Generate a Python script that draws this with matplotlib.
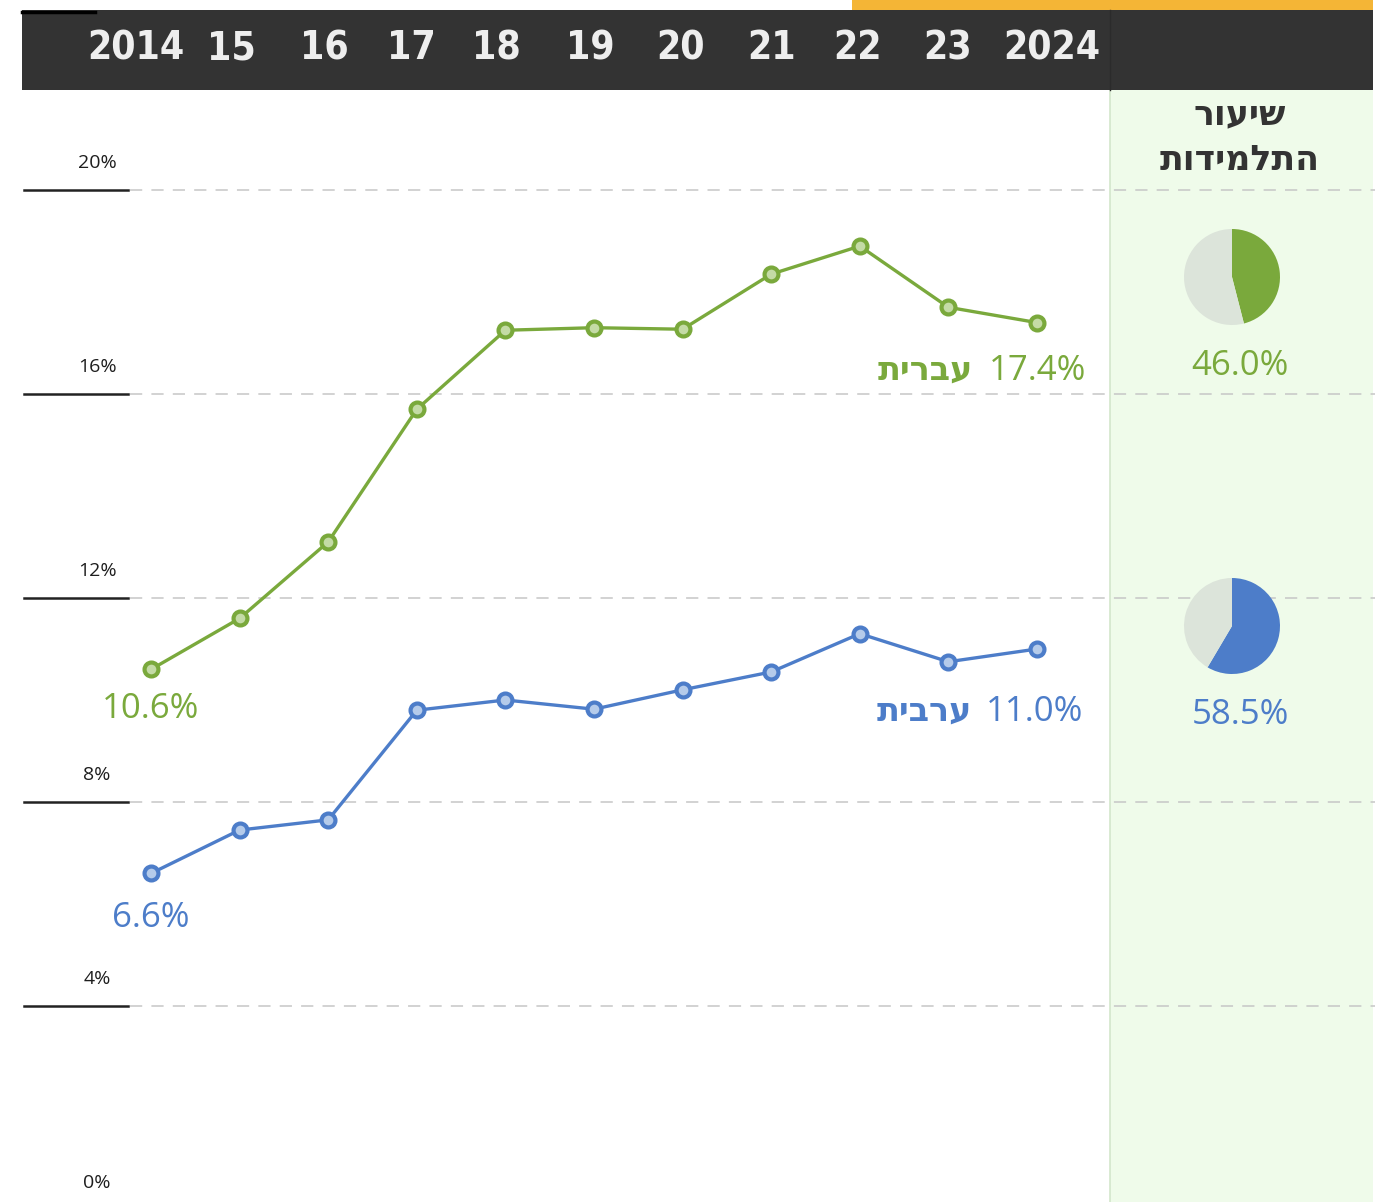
import matplotlib
matplotlib.use('Agg')
import matplotlib.pyplot as plt
from matplotlib.patches import Rectangle

# data
years = [2014, 2015, 2016, 2017, 2018, 2019, 2020, 2021, 2022, 2023, 2024]
year_labels = ['2014', '15', '16', '17', '18', '19', '20', '21', '22', '23', '2024']
hebrew = [10.6, 11.6, 13.1, 15.7, 17.25, 17.3, 17.27, 18.35, 18.9, 17.7, 17.4]
arabic = [6.6, 7.45, 7.65, 9.8, 10.0, 9.82, 10.2, 10.55, 11.3, 10.75, 11.0]
y_ticks = [0, 4, 8, 12, 16, 20]
girls_share = {'hebrew': 46.0, 'arabic': 58.5}
name_heb = 'עברית'
name_arb = 'ערבית'
title_lines = ['שיעור', 'התלמידות']

GREEN = '#7aa93c'
BLUE = '#4d7dc9'
PIE_GRAY = '#dce4da'
DARK = '#333333'
W, H = 1392, 1202


def rtl(s):
    # matplotlib has no bidi support, flip hebrew for display
    return s[::-1]


fig = plt.figure(figsize=(W / 100, H / 100), dpi=100)

# background layer in pixel coordinates
bg = fig.add_axes([0, 0, 1, 1], zorder=0)
bg.set_xlim(0, W)
bg.set_ylim(H, 0)
bg.axis('off')
bg.add_patch(Rectangle((1110, 90), 263, 1120, facecolor='#effbea', edgecolor='none'))
bg.plot([1110, 1110], [90, H], color='#d3e6cb', lw=1.2)

# main chart
ax = fig.add_axes([0, 0, 1, 1], zorder=1)
ax.patch.set_alpha(0)
px_year = 88.6
px_pct = 51.0
ax.set_xlim(2014 - 151 / px_year, 2014 + (W - 151) / px_year)
ax.set_ylim((1210 - H) / px_pct, 1210 / px_pct)
ax.axis('off')

fnt = ['Open Sans', 'DejaVu Sans']
ytr = ax.get_yaxis_transform()
for v in y_ticks:
    if v > 0:
        ax.plot([130 / W, 1375 / W], [v, v], transform=ytr, color='#c6c6c6',
                lw=1.1, dashes=(8, 6))
        ax.plot([24 / W, 128 / W], [v, v], transform=ytr, color='#222222', lw=1.8)
    ax.text(97 / W, v + 0.52, f'{v}%', transform=ytr, ha='center', va='center',
            fontsize=14, color='#1e1e1e', family=fnt)

ax.plot(years, hebrew, color=GREEN, lw=2.4, marker='o', ms=10, mfc='#c4dba6',
        mec=GREEN, mew=3, zorder=3)
ax.plot(years, arabic, color=BLUE, lw=2.4, marker='o', ms=10, mfc='#b5cbea',
        mec=BLUE, mew=3, zorder=3)

ax.text(years[0], hebrew[0] - 0.78, f'{hebrew[0]}%', color=GREEN, fontsize=25,
        ha='center', va='center', family=fnt, weight='medium')
ax.text(years[0], arabic[0] - 0.88, f'{arabic[0]}%', color=BLUE, fontsize=25,
        ha='center', va='center', family=fnt, weight='medium')
ax.text(years[-1] + 0.56, hebrew[-1] - 0.95, f'{hebrew[-1]}%', color=GREEN, fontsize=25,
        ha='right', va='center', family=fnt, weight='medium')
ax.text(years[-1] - 0.72, hebrew[-1] - 0.95, rtl(name_heb), color=GREEN, fontsize=24,
        ha='right', va='center', family=fnt, weight='heavy')
ax.text(years[-1] + 0.52, arabic[-1] - 1.23, f'{arabic[-1]:.1f}%', color=BLUE, fontsize=25,
        ha='right', va='center', family=fnt, weight='medium')
ax.text(years[-1] - 0.74, arabic[-1] - 1.23, rtl(name_arb), color=BLUE, fontsize=24,
        ha='right', va='center', family=fnt, weight='heavy')

# header band with the years
top = fig.add_axes([0, 0, 1, 1], zorder=2)
top.patch.set_alpha(0)
top.set_xlim(ax.get_xlim())
top.set_ylim(H, 0)
top.axis('off')
top.add_patch(Rectangle((2014 - 129 / px_year, 10), 1351 / px_year, 80,
                        facecolor=DARK, edgecolor='none'))
top.add_patch(Rectangle((2014 + (852 - 151) / px_year, 0), 521 / px_year, 10,
                        facecolor='#f4b536', edgecolor='none'))
top.plot([2014 + (1110 - 151) / px_year] * 2, [10, 90], color='#2b2b2b', lw=1)
top.plot([2014 - 129 / px_year, 2014 - 56 / px_year], [12, 12], color='black', lw=2.5)
offsets = [-0.17, -0.09, -0.04, -0.06, -0.1, -0.04, -0.02, 0.0, -0.03, -0.01, 0.17]
for yr, lab, off in zip(years, year_labels, offsets):
    top.text(yr + off, 48, lab, color='#eeeeee', fontsize=28, weight='heavy',
             ha='center', va='center', family='DejaVu Sans', stretch='condensed')

# right panel: share of girls
for i, line in enumerate(title_lines):
    fig.text(1240 / W, 1 - (115 + 46 * i) / H, rtl(line), ha='center', va='center',
             fontsize=25, color='#333333', family=fnt, weight='semibold')

pies = [(girls_share['hebrew'], GREEN, 277), (girls_share['arabic'], BLUE, 626)]
for share, col, cy in pies:
    r = 48
    pa = fig.add_axes([(1232 - r) / W, 1 - (cy + r) / H, 2 * r / W, 2 * r / H], zorder=3)
    pa.pie([share, 100 - share], colors=[col, PIE_GRAY], startangle=90,
           counterclock=False)
    pa.set_xlim(-1, 1)
    pa.set_ylim(-1, 1)
    pa.set_aspect('equal')
    fig.text(1240 / W, 1 - (cy + 89) / H, f'{share:.1f}%', ha='center', va='center',
             fontsize=25, color=col, family=fnt, weight='medium')

fig.savefig('out.png', dpi=100)
